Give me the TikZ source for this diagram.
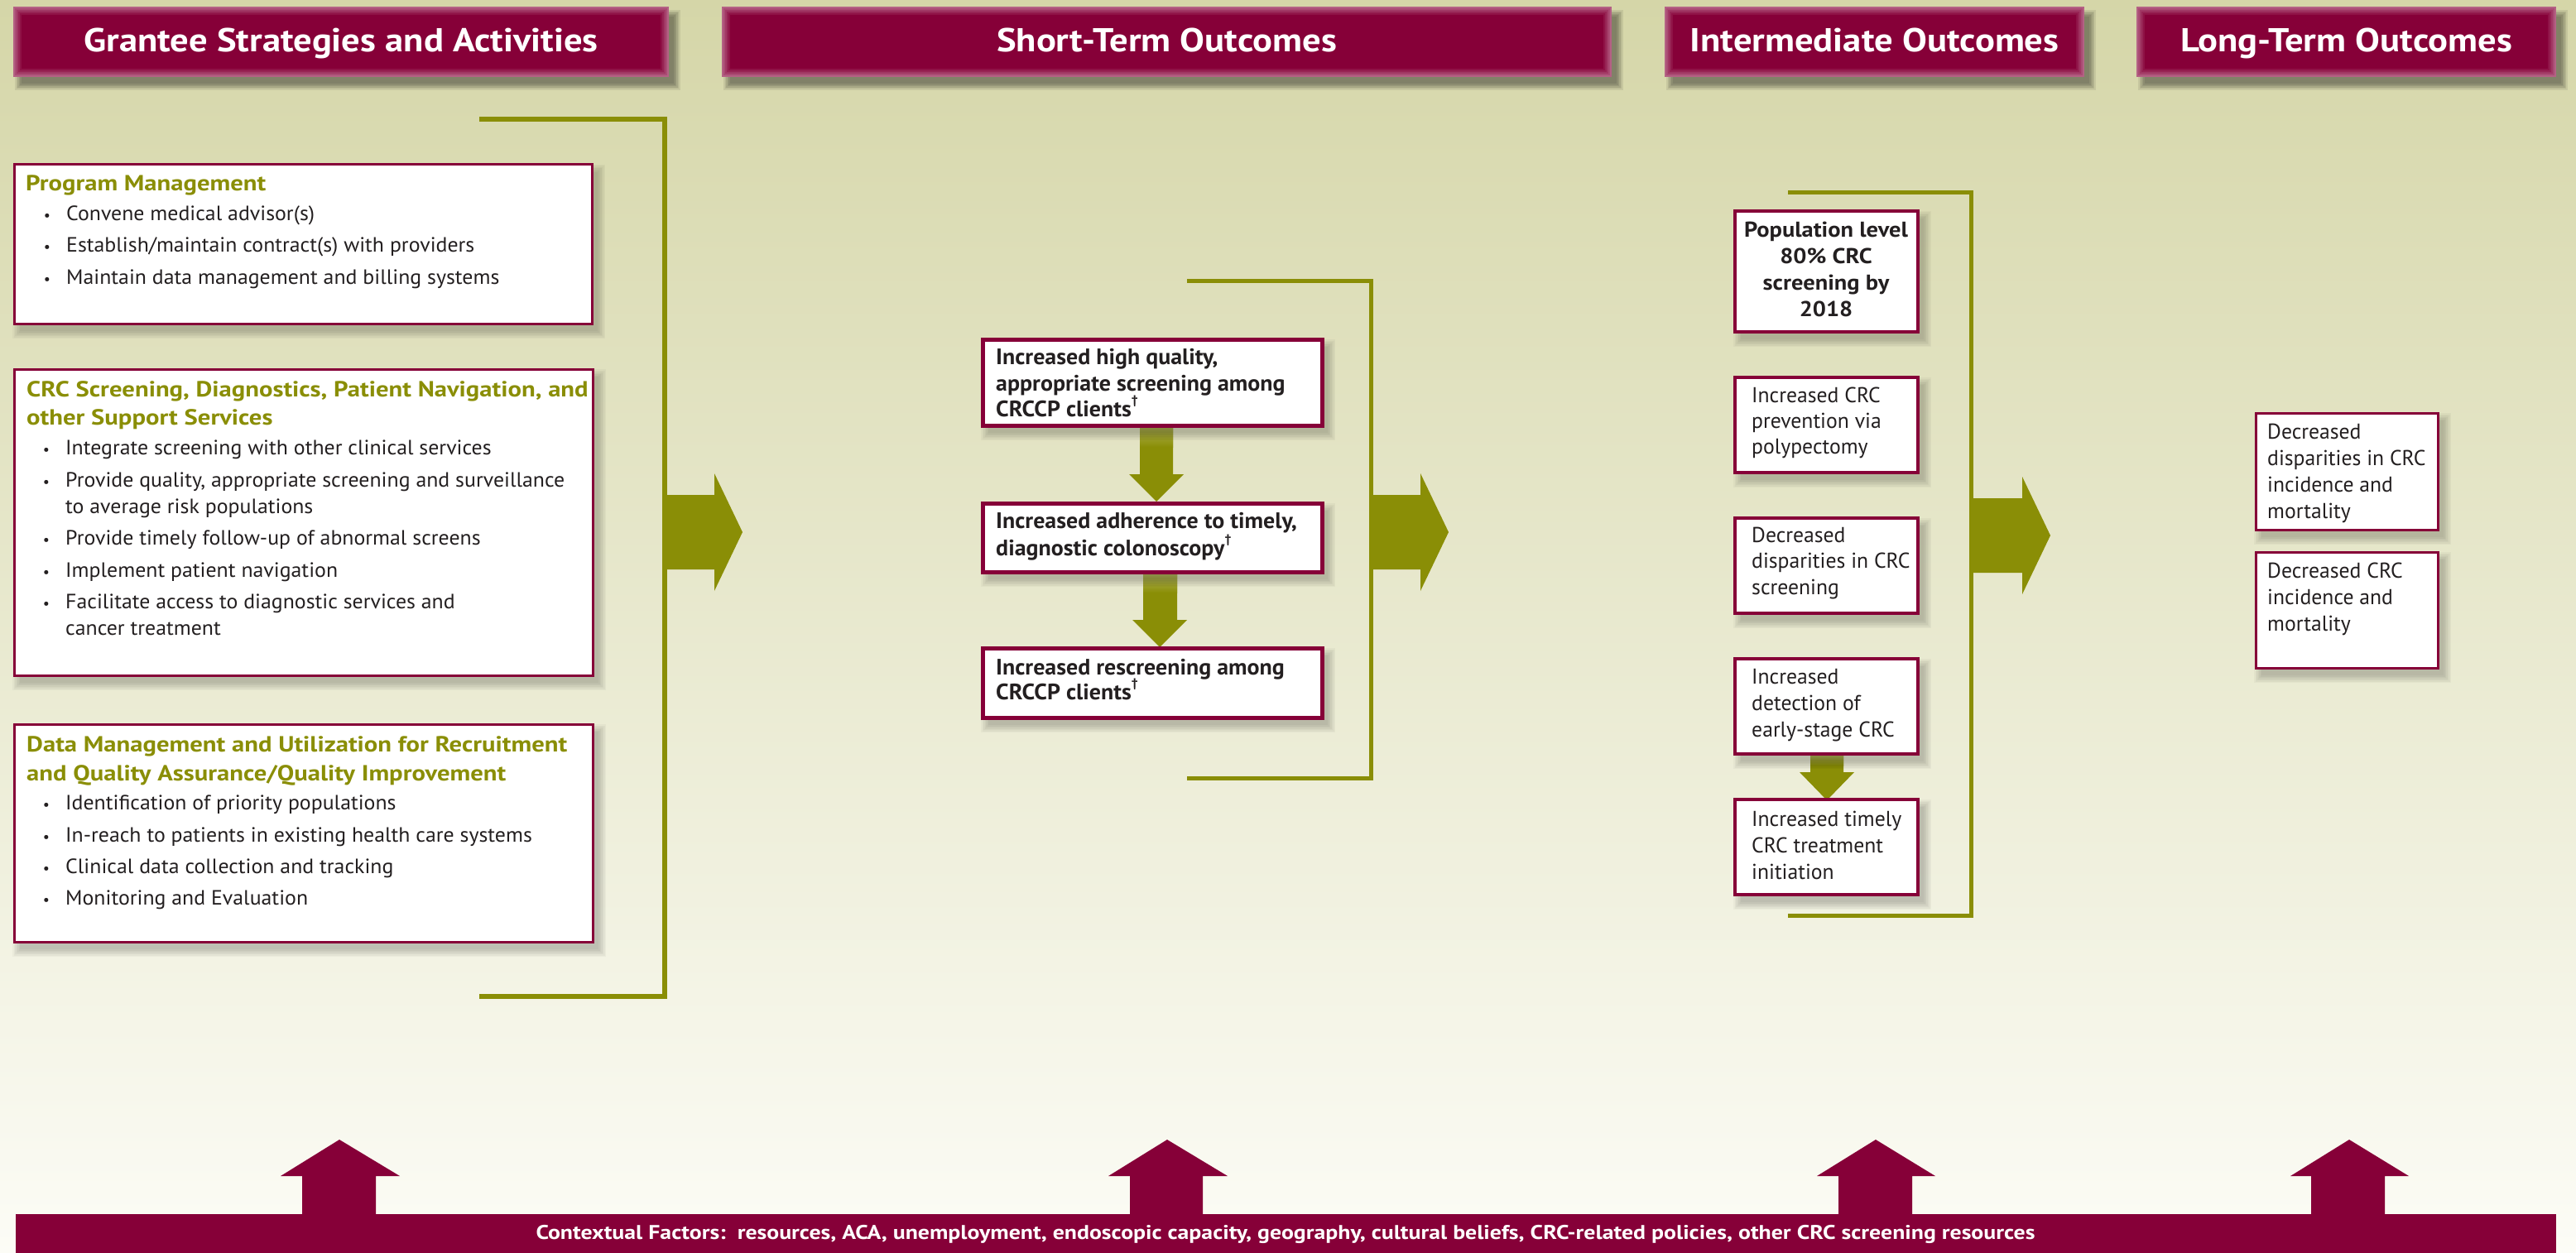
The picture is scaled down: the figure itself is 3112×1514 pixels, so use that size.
\documentclass[tikz,border=0pt]{standalone}
\usepackage{fontspec}
\setmainfont{PT Sans}
\definecolor{maroon}{RGB}{134,0,56}
\definecolor{oliv}{RGB}{138,142,6}
\definecolor{txt}{RGB}{35,31,32}
\definecolor{bgtop}{RGB}{213,214,168}
\definecolor{bgmid}{RGB}{229,230,199}
\definecolor{bgbot}{RGB}{252,252,246}
\newlength\tmpw
\newcommand\rat[3]{\settowidth\tmpw{#1#2}\pgfmathparse{#3/\tmpw}\let\rr\pgfmathresult}
\newcommand\mkfam[2]{\edef\x{\noexpand\newfontfamily\noexpand#1{PT Sans}[FakeStretch=#2]}\x}
\newcommand\szH{\fontsize{40}{42}\selectfont\bfseries}
\newcommand\szT{\fontsize{26.5}{30}\selectfont\bfseries}
\newcommand\szB{\fontsize{25}{30}\selectfont}
\newcommand\szM{\fontsize{27}{30}\selectfont\bfseries}
\newcommand\szP{\fontsize{26}{30}\selectfont\bfseries}
\newcommand\szI{\fontsize{26}{30}\selectfont}
\newcommand\szC{\fontsize{24}{28}\selectfont\bfseries}
\tikzset{
 hdrtxt/.style={text=white,font=\fH\szH,anchor=base,inner sep=0},
 ttl/.style={text=oliv,font=\fT\szT,anchor=base west,inner sep=0},
 bod/.style={text=txt,font=\fB\szB,anchor=base west,inner sep=0},
 bul/.style={text=txt,font=\fontsize{18}{20}\selectfont,anchor=base,inner sep=0},
 mid/.style={text=txt,font=\fM\szM,anchor=base west,inner sep=0},
 inm/.style={text=txt,font=\fI\szI,anchor=base west,inner sep=0},
 popt/.style={text=txt,font=\fP\szP,anchor=base,inner sep=0},
 ctx/.style={text=white,font=\fC\szC,anchor=base,inner sep=0},
 box/.style={draw=maroon,fill=white,line width=3pt,inner sep=0},
 brk/.style={draw=oliv,line width=6pt},
 olarrow/.style={fill=oliv},
 uparrow/.style={fill=maroon},
}
\newcommand\hdr[4]{%
 \foreach \k in {0,...,5}{\fill[black,opacity=0.08] ({#2+10-\k*1.6},{8+12-\k*1.6}) rectangle ({#3+6+\k*1.6},{93+8+\k*1.6});}
 \fill[maroon!62] (#2,8) rectangle (#3,93);
 \foreach \k/\c in {2/70,4/78,6/86,8/93,10/100}{\fill[maroon!\c] ({#2+\k},{8+\k}) rectangle ({#3-\k},{93-\k});}
 \node[hdrtxt] (#1) at ({(#2+#3)/2},63) {#4};
}
\newcommand\bx[6]{%
 \foreach \k in {0,...,6}{\fill[black,opacity=0.03] ({#2+7-\k*1.5},{#3+9-\k*1.5}) rectangle ({#4+7+\k*1.5},{#5+9+\k*1.5});}
 \node[box,line width=#6,minimum width={(#4-#2)*1pt},minimum height={(#5-#3)*1pt}] (#1) at ({(#2+#4)/2},{(#3+#5)/2}) {};
}
\newcommand\dg{\raisebox{0.55em}{\fontsize{15}{15}\selectfont †}}
\begin{document}
% width calibration against the reference
\rat{\szH}{Grantee Strategies and Activities}{619}\let\ra\rr
\rat{\szH}{Intermediate Outcomes}{447}\let\rb\rr
\rat{\szH}{Long-Term Outcomes}{401}\let\rc\rr
\pgfmathsetmacro\rH{(\ra+\rb+\rc)/3}\mkfam\fH\rH
\rat{\szT}{CRC Screening, Diagnostics, Patient Navigation, and}{674}\let\ra\rr
\rat{\szT}{Data Management and Utilization for Recruitment}{651}\let\rb\rr
\rat{\szT}{Program Management}{293}\let\rc\rr
\pgfmathsetmacro\rT{(\ra+\rb+\rc)/3}\mkfam\fT\rT
\rat{\szB}{Establish/maintain contract(s) with providers}{494}\let\ra\rr
\rat{\szB}{Provide quality, appropriate screening and surveillance}{608}\let\rb\rr
\rat{\szB}{In-reach to patients in existing health care systems}{558}\let\rc\rr
\pgfmathsetmacro\rB{(\ra+\rb+\rc)/3}\mkfam\fB\rB
\rat{\szM}{appropriate screening among}{351}\let\ra\rr
\rat{\szM}{Increased adherence to timely,}{362}\let\rb\rr
\pgfmathsetmacro\rM{(\ra+\rb)/2}\mkfam\fM\rM
\rat{\szP}{Population level}{196}\let\ra\rr
\rat{\szP}{screening by}{154}\let\rb\rr
\pgfmathsetmacro\rP{(\ra+\rb)/2}\mkfam\fP\rP
\rat{\szI}{disparities in CRC}{191}\let\ra\rr
\rat{\szI}{Increased timely}{181}\let\rb\rr
\rat{\szI}{early-stage CRC}{173}\let\rc\rr
\pgfmathsetmacro\rI{(\ra+\rb+\rc)/3}\mkfam\fI\rI
\rat{\szC}{Contextual Factors:\ \ resources, ACA, unemployment, endoscopic capacity, geography, cultural beliefs, CRC-related policies, other CRC screening resources}{1811}
\let\rC\rr\mkfam\fC\rC
\begin{tikzpicture}[x=1pt,y=-1pt]
\useasboundingbox (0,0) rectangle (3112,1514);
\shade[top color=bgtop,middle color=bgmid,bottom color=bgbot] (0,0) rectangle (3112,1514);

% headers
\hdr{h1}{16}{808}{Grantee Strategies and Activities}
\hdr{h2}{872}{1947}{Short-Term Outcomes}
\hdr{h3}{2011}{2518}{Intermediate Outcomes}
\hdr{h4}{2581}{3088}{Long-Term Outcomes}

% brackets
\draw[brk] (579,144) -- (803,144) -- (803,1204) -- (579,1204);
\draw[brk,line width=5pt] (1434,339) -- (1656,339) -- (1656,940) -- (1434,940);
\draw[brk,line width=5pt] (2160,233) -- (2381,233) -- (2381,1106) -- (2160,1106);

% big arrows
\fill[olarrow] (802,598) -- (863,598) -- (863,572) -- (897,643) -- (863,714) -- (863,688) -- (802,688) -- cycle;
\fill[olarrow] (1655,598) -- (1716,598) -- (1716,572) -- (1750,643) -- (1716,714) -- (1716,688) -- (1655,688) -- cycle;
\fill[olarrow] (2380,602) -- (2443,602) -- (2443,576) -- (2477,647) -- (2443,718) -- (2443,692) -- (2380,692) -- cycle;

% left column boxes
\bx{pm}{17}{199}{715}{391}{3pt}
\node[ttl] (pmt) at (31,231) {Program Management};
\node[bul] (pmb1) at (57,267) {•};
\node[bod] (pm1) at (80,267) {Convene medical advisor(s)};
\node[bul] (pmb2) at (57,305) {•};
\node[bod] (pm2) at (80,305) {Establish/maintain contract(s) with providers};
\node[bul] (pmb3) at (57,343) {•};
\node[bod] (pm3) at (80,343) {Maintain data management and billing systems};

\bx{crc}{17}{446}{716}{816}{3pt}
\node[ttl] (crct1) at (32,479) {CRC Screening, Diagnostics, Patient Navigation, and};
\node[ttl] (crct2) at (32,513) {other Support Services};
\node[bul] (crcb1) at (56,549) {•};
\node[bod] (crc1) at (79,549) {Integrate screening with other clinical services};
\node[bul] (crcb2) at (56,588) {•};
\node[bod] (crc2) at (79,588) {Provide quality, appropriate screening and surveillance};
\node[bod] (crc2b) at (79,620) {to average risk populations};
\node[bul] (crcb3) at (56,658) {•};
\node[bod] (crc3) at (79,658) {Provide timely follow-up of abnormal screens};
\node[bul] (crcb4) at (56,697) {•};
\node[bod] (crc4) at (79,697) {Implement patient navigation};
\node[bul] (crcb5) at (56,735) {•};
\node[bod] (crc5) at (79,735) {Facilitate access to diagnostic services and};
\node[bod] (crc5b) at (79,767) {cancer treatment};

\bx{dm}{17}{875}{716}{1138}{3pt}
\node[ttl] (dmt1) at (32,908) {Data Management and Utilization for Recruitment};
\node[ttl] (dmt2) at (32,943) {and Quality Assurance/Quality Improvement};
\node[bul] (dmb1) at (56,978) {•};
\node[bod] (dm1) at (79,978) {Identification of priority populations};
\node[bul] (dmb2) at (56,1017) {•};
\node[bod] (dm2) at (79,1017) {In-reach to patients in existing health care systems};
\node[bul] (dmb3) at (56,1055) {•};
\node[bod] (dm3) at (79,1055) {Clinical data collection and tracking};
\node[bul] (dmb4) at (56,1093) {•};
\node[bod] (dm4) at (79,1093) {Monitoring and Evaluation};

% short-term column
\fill[olarrow] (1377,512) -- (1417,512) -- (1417,573) -- (1430,573) -- (1397,606) -- (1364,573) -- (1377,573) -- cycle;
\shade[top color=oliv!45!bgtop,bottom color=oliv] (1377,512) rectangle (1417,540);
\fill[olarrow] (1381,689) -- (1422,689) -- (1422,749) -- (1434,749) -- (1401,782) -- (1368,749) -- (1381,749) -- cycle;
\shade[top color=oliv!45!bgmid,bottom color=oliv] (1381,689) rectangle (1422,716);

\bx{s1}{1187}{410}{1597}{514}{5pt}
\node[mid] (s1a) at (1203,440) {Increased high quality,};
\node[mid] (s1b) at (1203,472) {appropriate screening among};
\node[mid] (s1c) at (1203,503) {CRCCP clients\dg};
\bx{s2}{1187}{608}{1597}{691}{5pt}
\node[mid] (s2a) at (1203,638) {Increased adherence to timely,};
\node[mid] (s2b) at (1203,671) {diagnostic colonoscopy\dg};
\bx{s3}{1187}{783}{1597}{867}{5pt}
\node[mid] (s3a) at (1203,815) {Increased rescreening among};
\node[mid] (s3b) at (1203,845) {CRCCP clients\dg};

% intermediate column
\fill[olarrow] (2187,909) -- (2227,909) -- (2227,933) -- (2240,933) -- (2207,967) -- (2174,933) -- (2187,933) -- cycle;
\shade[top color=oliv!45!bgmid,bottom color=oliv] (2187,909) rectangle (2227,925);

\bx{i1}{2096}{255}{2317}{401}{3.5pt}
\node[popt] (i1a) at (2206,287) {Population level};
\node[popt] (i1b) at (2206,318) {80\% CRC};
\node[popt] (i1c) at (2206,350) {screening by};
\node[popt] (i1d) at (2206,382) {2018};
\bx{i2}{2096}{456}{2317}{571}{3.5pt}
\node[inm] (i2a) at (2116,486) {Increased CRC};
\node[inm] (i2b) at (2116,517) {prevention via};
\node[inm] (i2c) at (2116,548) {polypectomy};
\bx{i3}{2096}{626}{2317}{741}{3.5pt}
\node[inm] (i3a) at (2116,655) {Decreased};
\node[inm] (i3b) at (2116,686) {disparities in CRC};
\node[inm] (i3c) at (2116,718) {screening};
\bx{i4}{2096}{796}{2317}{911}{3.5pt}
\node[inm] (i4a) at (2116,826) {Increased};
\node[inm] (i4b) at (2116,858) {detection of};
\node[inm] (i4c) at (2116,890) {early-stage CRC};
\bx{i5}{2096}{966}{2317}{1081}{3.5pt}
\node[inm] (i5a) at (2116,998) {Increased timely};
\node[inm] (i5b) at (2116,1030) {CRC treatment};
\node[inm] (i5c) at (2116,1062) {initiation};

% long-term column
\bx{l1}{2725}{499}{2945}{640}{3pt}
\node[inm] (l1a) at (2739,530) {Decreased};
\node[inm] (l1b) at (2739,562) {disparities in CRC};
\node[inm] (l1c) at (2739,594) {incidence and};
\node[inm] (l1d) at (2739,626) {mortality};
\bx{l2}{2725}{667}{2945}{807}{3pt}
\node[inm] (l2a) at (2739,698) {Decreased CRC};
\node[inm] (l2b) at (2739,730) {incidence and};
\node[inm] (l2c) at (2739,762) {mortality};

% contextual factors
\fill[uparrow] (365,1470) -- (365,1421) -- (339,1421) -- (410,1377) -- (483,1421) -- (454,1421) -- (454,1470) -- cycle;
\fill[uparrow] (1365,1470) -- (1365,1421) -- (1339,1421) -- (1410,1377) -- (1483,1421) -- (1453,1421) -- (1453,1470) -- cycle;
\fill[uparrow] (2221,1470) -- (2221,1421) -- (2195,1421) -- (2266,1377) -- (2338,1421) -- (2310,1421) -- (2310,1470) -- cycle;
\fill[uparrow] (2792,1470) -- (2792,1421) -- (2767,1421) -- (2838,1377) -- (2910,1421) -- (2881,1421) -- (2881,1470) -- cycle;
\fill[maroon] (19,1467) rectangle (3088,1514);
\node[ctx] (ctx) at (1553,1497) {Contextual Factors:\ \ resources, ACA, unemployment, endoscopic capacity, geography, cultural beliefs, CRC-related policies, other CRC screening resources};
\end{tikzpicture}
\end{document}
